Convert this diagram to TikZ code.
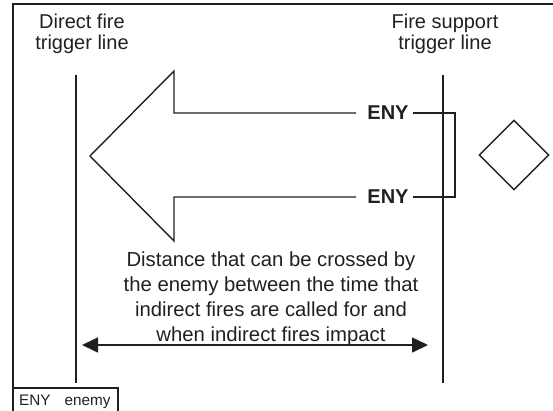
\documentclass[tikz,border=0pt]{standalone}
\usepackage{fontspec}
\setmainfont{Liberation Sans}
\usetikzlibrary{arrows.meta,shapes.geometric}
\definecolor{ink}{HTML}{231F20}
\tikzset{
  ln/.style={draw=ink, line width=1.6pt},
  lbl/.style={inner sep=0pt, text=ink, font=\fontsize{20}{20.5}\selectfont, align=center},
  eny/.style={inner sep=0pt, text=ink, font=\fontsize{20}{24}\selectfont\bfseries},
}
\begin{document}
\begin{tikzpicture}[x=1pt,y=-1pt]
\useasboundingbox (0,0) rectangle (553,410);
% frame
\draw[draw=ink, line width=2pt] (13,420) -- (13,4) -- (560,4);
% titles
\node[lbl, anchor=base] (t1) at (82,49) {Direct fire\\trigger line};
\node[lbl, anchor=base] (t2) at (445,49) {Fire support\\trigger line};
% trigger lines
\coordinate (l1t) at (76,75); \coordinate (l1b) at (76,383);
\coordinate (l2t) at (443,75); \coordinate (l2b) at (443,383);
\draw[ln] (l1t) -- (l1b);
\draw[ln] (l2t) -- (l2b);
% ENY labels
\node[eny, anchor=center] (enyT) at (388,113) {ENY};
\node[eny, anchor=center] (enyB) at (388,197) {ENY};
% arrow outline
\draw[ln, line width=1.4pt, line join=miter]
  ([xshift=-11pt]enyT.west |- 0,113) -- (174,113) -- (174,71) -- (90,156)
  -- (174,241) -- (174,197) -- ([xshift=-11pt]enyB.west |- 0,197);
\draw[ln, line width=1.4pt]
  ([xshift=4pt]enyT.east |- 0,113) -- (455,113) -- (455,197) -- ([xshift=4pt]enyB.east |- 0,197);
% diamond
\node[draw=ink, line width=1.4pt, diamond, minimum width=70pt, minimum height=70pt, inner sep=0pt] (dia) at (514,155) {};
% distance text
\node[inner sep=0pt, text=ink, font=\fontsize{20.3}{25}\selectfont, align=center, anchor=center] (dist) at (271,299)
  {Distance that can be crossed by\\the enemy between the time that\\indirect fires are called for and\\when indirect fires impact};
% double arrow
\coordinate (da) at (82,345); \coordinate (db) at (428,345);
\draw[ln, {Triangle[length=16pt,width=15pt]}-{Triangle[length=16pt,width=15pt]}] (da) -- (db);
% legend
\draw[draw=ink, line width=1.4pt] (13,420) -- (13,388) -- (118,388) -- (118,420);
\node[inner sep=0pt, text=ink, font=\fontsize{15.3}{17}\selectfont, anchor=base west] (leg) at (19,405) {ENY\hspace{14pt}enemy};
\end{tikzpicture}
\end{document}
